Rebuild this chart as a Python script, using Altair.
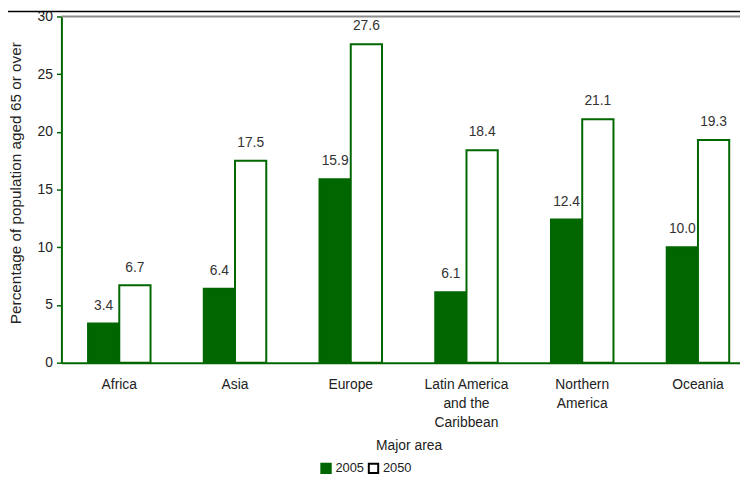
import altair as alt
import pandas as pd

areas = ["Africa", "Asia", "Europe", "Latin America|and the|Caribbean", "Northern|America", "Oceania"]
years = ["2005", "2050"]
v2005 = [3.4, 6.4, 15.9, 6.1, 12.4, 10.0]
v2050 = [6.7, 17.5, 27.6, 18.4, 21.1, 19.3]

rows = []
for a, x, y in zip(areas, v2005, v2050):
    rows.append({"area": a, "year": "2005", "value": x})
    rows.append({"area": a, "year": "2050", "value": y})
df = pd.DataFrame(rows)

GREEN = "#006600"
FONT = "Liberation Sans"

xenc = alt.X("area:N", sort=areas, title="Major area",
             scale=alt.Scale(range=[0, 702], paddingInner=0.46, paddingOuter=0.23),
             axis=alt.Axis(labelExpr="split(datum.label, '|')", labelAngle=0,
                           labelPadding=15, labelBaseline="top", labelLineHeight=19.5,
                           ticks=False, domainColor=GREEN, domainWidth=2,
                           titleY=84, titleBaseline="middle"))
xoff = alt.XOffset("year:N", sort=years, scale=alt.Scale(paddingInner=0, paddingOuter=0))
yenc = alt.Y("value:Q", title="Percentage of population aged 65 or over",
             scale=alt.Scale(domain=[0, 30], nice=False),
             axis=alt.Axis(values=[0, 5, 10, 15, 20, 25, 30], grid=False,
                           domainColor=GREEN, domainWidth=2, tickColor=GREEN,
                           tickSize=5, tickWidth=1.5, labelPadding=4,
                           titleX=-46, titleY=168, titleAngle=-90, titleFontSize=15.5,
                           titleAlign="center", titleBaseline="middle"))

legend = alt.Legend(title=None, orient="none", direction="horizontal",
                    legendX=261, legendY=450, symbolType="square",
                    symbolSize=90, symbolStrokeWidth=2,
                    columnPadding=0, labelOffset=3)

bars = alt.Chart(df).mark_bar(stroke=GREEN, strokeWidth=2).encode(
    x=xenc, xOffset=xoff, y=yenc,
    fill=alt.Fill("year:N", sort=years,
                  scale=alt.Scale(domain=years, range=[GREEN, "#ffffff"]),
                  legend=legend),
)

legend_layer = alt.Chart(df).transform_filter("false").mark_point(shape="square", filled=False).encode(
    x=alt.X("area:N", sort=areas), y="value:Q",
    stroke=alt.Stroke("year:N", sort=years,
                      scale=alt.Scale(domain=years, range=[GREEN, "#000000"]),
                      legend=legend),
)

labels = alt.Chart(df).mark_text(dy=-18, baseline="middle", fontSize=14, color="#333333", font=FONT).encode(
    x=alt.X("area:N", sort=areas), xOffset=alt.XOffset("year:N", sort=years), y="value:Q",
    text=alt.Text("value:Q", format=".1f"),
)

topline = alt.Chart(pd.DataFrame({"v": [30]})).mark_rule(color="#8c8c8c", strokeWidth=2).encode(
    y=alt.Y("v:Q"))

frame = alt.Chart(pd.DataFrame({"v": [0]})).mark_rule(color="#000000", strokeWidth=1.5).encode(
    x=alt.value(-60), x2=alt.value(700), y=alt.value(-5))

chart = alt.layer(bars, legend_layer, labels, topline, frame).properties(
    width=686, height=350,
    autosize=alt.AutoSizeParams(type="none"),
    padding={"left": 54, "top": 6, "right": 0, "bottom": 112},
).configure_view(stroke=None).configure_axis(
    labelFont=FONT, titleFont=FONT, labelFontSize=14, titleFontSize=14,
    labelColor="#222222", titleColor="#222222", titleFontWeight="normal",
).configure_legend(labelFont=FONT, labelFontSize=13, labelColor="#222222")

chart.save("out.html", embed_options={"renderer": "svg", "actions": False})
